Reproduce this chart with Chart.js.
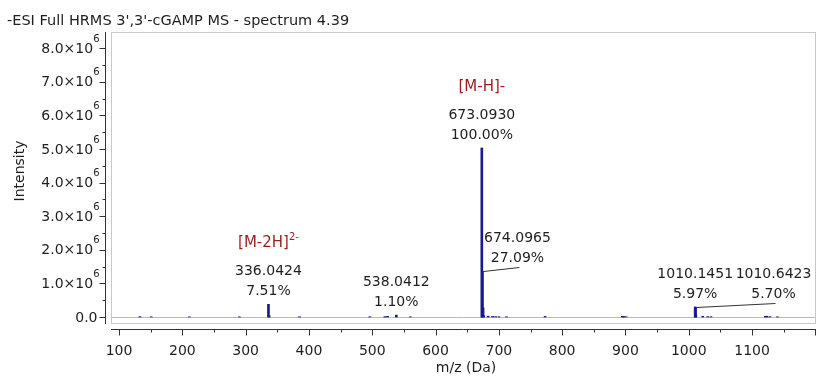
<!DOCTYPE html>
<html lang="en">
<head>
<meta charset="UTF-8">
<title>-ESI Full HRMS 3',3'-cGAMP MS - spectrum 4.39</title>
<style>
    html, body { margin: 0; padding: 0; background: #fff; }
    #ms { display: block; }
</style>
</head>
<body>
<canvas id="ms" width="816" height="376"></canvas>
<script src="https://cdn.jsdelivr.net/npm/chart.js"></script>
<script>
const FONT = '"DejaVu Sans", sans-serif';
const TITLE = "-ESI Full HRMS 3',3'-cGAMP MS - spectrum 4.39";

// centroid peaks (m/z, intensity in counts)
const peakMz = [
    133.0, 150.9, 211.0, 290.1, 336.0424, 337.04, 385.0, 496.1, 520.0, 524.1,
    538.0412, 560.1, 673.0930, 674.0965, 675.09, 676.09, 683.1, 690.1, 695.0,
    700.1, 712.0, 773.0, 895.0, 897.1, 901.0, 1010.1451, 1010.6423, 1011.15,
    1022.1, 1030.0, 1035.1, 1121.0, 1123.1, 1128.0, 1140.1
];
const peakIntensity = [
    12000, 6000, 5000, 6000, 377700, 40000, 8000, 8000, 12000, 20000,
    55300, 6000, 5030000, 1362600, 270000, 40000, 25000, 18000, 12000,
    9000, 7000, 18000, 22000, 18000, 9000, 300300, 286700, 60000,
    22000, 12000, 9000, 18000, 25000, 12000, 7000
];

// labelled peaks
const labelMz = [336.0424, 538.0412, 673.0930, 674.0965, 1010.1451, 1010.6423];
const labelPct = ['7.51%', '1.10%', '100.00%', '27.09%', '5.97%', '5.70%'];
const labelShift = [0, 0, 0, 35, 0, 78];          // px, labels moved aside with a leader line
const ionMz = [336.0424, 673.0930];
const ionName = ['[M-2H]', '[M-H]-'];
const ionCharge = ['2-', ''];

const xTicks = [100, 200, 300, 400, 500, 600, 700, 800, 900, 1000, 1100];
const yTicks = [0, 1e6, 2e6, 3e6, 4e6, 5e6, 6e6, 7e6, 8e6];
const yTickText = ['0.0', '1.0×10', '2.0×10', '3.0×10', '4.0×10', '5.0×10', '6.0×10', '7.0×10', '8.0×10'];

function font(size) {
    return size + 'px ' + FONT;
}

function intensityAt(mz) {
    return peakIntensity[peakMz.indexOf(mz)];
}

const spectrumDecor = {
    id: 'spectrumDecor',
    beforeDatasetsDraw(chart) {
        const { ctx, chartArea: a, scales: { y } } = chart;
        ctx.save();
        ctx.lineWidth = 1;
        ctx.strokeStyle = '#c8c8c8';
        ctx.strokeRect(a.left + 0.5, a.top + 0.5, a.right - a.left - 1, a.bottom - a.top - 1);
        const y0 = Math.round(y.getPixelForValue(0)) + 0.5;
        ctx.strokeStyle = '#b4b8d0';
        ctx.beginPath();
        ctx.moveTo(a.left + 1, y0);
        ctx.lineTo(a.right - 1, y0);
        ctx.stroke();
        ctx.restore();
    },
    afterDatasetsDraw(chart) {
        const { ctx, chartArea: a, scales: { x, y } } = chart;
        ctx.save();
        ctx.strokeStyle = '#333';
        ctx.fillStyle = '#1e1e1e';
        ctx.lineWidth = 1;

        // title
        ctx.font = font(14.5);
        ctx.textAlign = 'left';
        ctx.textBaseline = 'middle';
        ctx.fillText(TITLE, 7, 21);

        // y axis
        const ax = a.left - 5.5;
        ctx.beginPath();
        ctx.moveTo(ax, a.top);
        ctx.lineTo(ax, a.bottom);
        for (let v = 0; v <= 8.4e6; v += 5e5) {
            const py = Math.round(y.getPixelForValue(v)) + 0.5;
            const len = v % 1e6 === 0 ? 6 : 3;
            ctx.moveTo(ax, py);
            ctx.lineTo(ax - len, py);
        }
        ctx.stroke();
        yTicks.forEach((v, i) => {
            const py = y.getPixelForValue(v) + 1;
            if (v === 0) {
                ctx.font = font(14);
                ctx.textAlign = 'right';
                ctx.fillText(yTickText[i], ax - 8, py);
                return;
            }
            ctx.font = font(10);
            ctx.textAlign = 'right';
            const supW = ctx.measureText('6').width;
            ctx.fillText('6', ax - 6, py - 10);
            ctx.font = font(14);
            ctx.fillText(yTickText[i], ax - 6 - supW, py);
        });

        // x axis
        const ay = a.bottom + 5.5;
        ctx.beginPath();
        ctx.moveTo(a.left, ay);
        ctx.lineTo(a.right, ay);
        for (let v = 100; v <= 1200; v += 50) {
            const px = Math.round(x.getPixelForValue(v)) + 0.5;
            if (px > a.right) break;
            const len = v % 100 === 0 ? 6 : 3;
            ctx.moveTo(px, ay);
            ctx.lineTo(px, ay + len);
        }
        ctx.stroke();
        ctx.font = font(14);
        ctx.textAlign = 'center';
        xTicks.forEach(v => ctx.fillText(String(v), x.getPixelForValue(v), 351));

        // axis titles
        ctx.fillText('m/z (Da)', 466, 368);
        ctx.save();
        ctx.translate(20, 171);
        ctx.rotate(-Math.PI / 2);
        ctx.fillText('Intensity', 0, 0);
        ctx.restore();

        // peak labels
        labelMz.forEach((mz, i) => {
            const px = x.getPixelForValue(mz);
            const top = y.getPixelForValue(intensityAt(mz));
            const cx = px + labelShift[i];
            const cy = top - 13;
            ctx.font = font(14);
            ctx.fillStyle = '#1e1e1e';
            ctx.textAlign = 'center';
            ctx.fillText(labelPct[i], cx, cy);
            ctx.fillText(mz.toFixed(4), cx, cy - 20);
            if (labelShift[i]) {
                ctx.strokeStyle = '#333';
                ctx.beginPath();
                ctx.moveTo(px + 1, Math.round(top) + 0.5);
                ctx.lineTo(cx + 2, Math.round(cy + 9) + 0.5);
                ctx.stroke();
            }
            const k = ionMz.indexOf(mz);
            if (k >= 0) {
                ctx.fillStyle = '#9c1c1c';
                const name = ionName[k];
                const sup = ionCharge[k];
                ctx.font = font(10);
                const supW = ctx.measureText(sup).width;
                ctx.font = font(15);
                const w = ctx.measureText(name).width;
                const left = cx - (w + supW) / 2;
                ctx.textAlign = 'left';
                ctx.fillText(name, left, cy - 48);
                if (sup) {
                    ctx.font = font(10);
                    ctx.fillText(sup, left + w, cy - 54);
                }
            }
        });
        ctx.restore();
    }
};

new Chart(document.getElementById('ms'), {
    type: 'bar',
    data: {
        datasets: [{
            data: peakMz.map((m, i) => ({ x: m, y: peakIntensity[i] })),
            backgroundColor: '#1a1a8e',
            barThickness: 2,
            grouped: false
        }]
    },
    options: {
        responsive: false,
        animation: false,
        layout: { padding: { left: 111, right: 0, top: 32, bottom: 52 } },
        plugins: { legend: { display: false }, tooltip: { enabled: false } },
        scales: {
            x: { type: 'linear', min: 87.3, max: 1201, offset: false, display: false },
            y: { min: -208000, max: 8480000, display: false }
        }
    },
    plugins: [spectrumDecor]
});
</script>
</body>
</html>
